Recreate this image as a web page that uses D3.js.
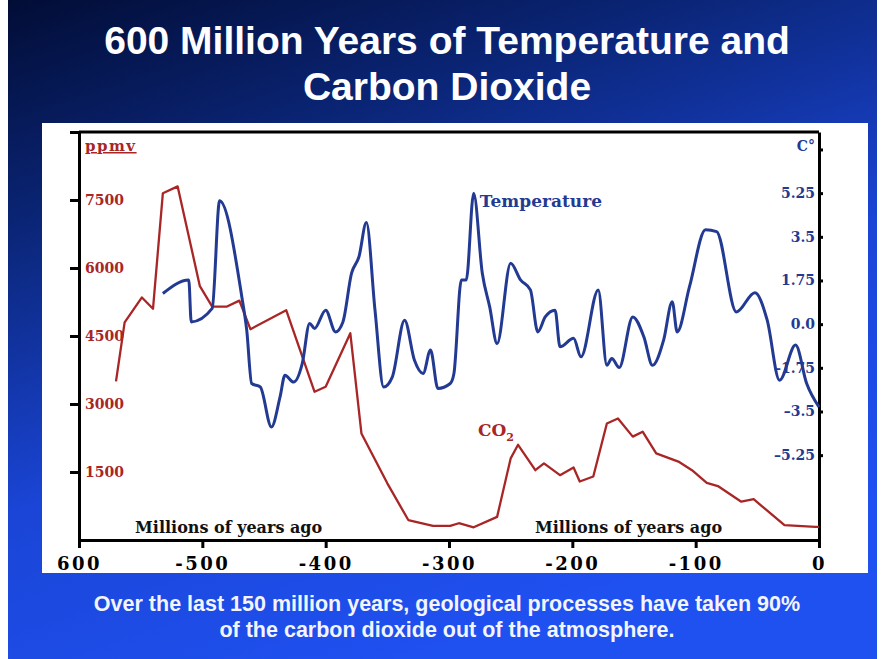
<!DOCTYPE html>
<html>
<head>
<meta charset="utf-8">
<script src="https://cdn.jsdelivr.net/npm/d3@7"></script>
<style>
  body { margin: 0; background: #fff; }
  svg { display: block; }
  .axis path, .axis line { stroke: #000; stroke-width: 3; }
  .lbl { font-family: "DejaVu Serif", serif; font-weight: bold; }
</style>
</head>
<body>
<div id="chart"></div>
<script>
// CO2 (ppmv), years are millions of years ago (negative)
const co2Years = [-570, -563, -549, -540, -532, -520, -502, -492, -480, -470, -461, -432, -409, -400, -380,
  -371, -350, -333, -313, -299, -292, -280, -261, -250, -244, -230, -223, -210, -199, -194, -183, -172,
  -163, -151, -143, -132, -114, -103, -91, -82, -63, -53, -28, -3, 0];
const co2Values = [3500, 4800, 5350, 5100, 7650, 7800, 5600, 5150, 5150, 5280, 4650, 5070, 3270, 3380, 4560,
  2350, 1250, 440, 310, 310, 370, 280, 510, 1800, 2100, 1540, 1690, 1430, 1600, 1290, 1400, 2570,
  2680, 2280, 2390, 1910, 1730, 1540, 1260, 1190, 845, 900, 330, 290, 290];

// temperature (C°)
const tempYears = [-532, -511, -509, -492, -486, -468, -464, -460, -453, -444, -437, -433, -426, -419, -413,
  -409, -400, -392, -386, -379, -373, -367, -360, -353, -346, -336, -328, -321, -315, -309, -299, -296,
  -290, -286, -280, -273, -267, -261, -250, -242, -234, -228, -222, -214, -210, -199, -193, -179, -172,
  -168, -162, -151, -142, -135, -126, -119, -115, -105, -92, -83, -67, -52, -42, -32, -19, -10, 0];
const tempValues = [1.23, 1.77, 0.09, 0.63, 4.94, 1.10, -0.24, -2.38, -2.52, -4.12, -2.92, -2.05, -2.32, -1.58, 0.03,
  -0.17, 0.56, -0.31, 0.09, 2.04, 2.70, 4.07, 0.56, -2.52, -2.12, 0.16, -1.45, -1.98, -1.04, -2.58, -2.38, -1.98,
  1.77, 1.77, 5.25, 2.04, 0.69, -0.78, 2.44, 1.77, 1.37, -0.31, 0.29, 0.56, -0.91, -0.57, -1.31, 1.37, -1.65,
  -1.38, -1.74, 0.29, -0.51, -1.65, -0.64, 0.90, -0.31, 1.50, 3.78, 3.71, 0.49, 1.26, 0.16, -2.25, -0.84, -2.38, -3.32];

const xTicks = [-600, -500, -400, -300, -200, -100, 0];
const xTickLabels = ["600", "-500", "-400", "-300", "-200", "-100", "0"];
const ppmTicks = [1500, 3000, 4500, 6000, 7500, 9000];
const tempTicks = [7, 5.25, 3.5, 1.75, 0, -1.75, -3.5, -5.25];
const tempTickLabels = ["C°", "5.25", "3.5", "1.75", "0.0", "–1.75", "–3.5", "–5.25"];

const W = 882, H = 659;
const red = "#a82626", blue = "#233a92";

const svg = d3.select("#chart").append("svg").attr("width", W).attr("height", H);

// slide background
const defs = svg.append("defs");
const grad = defs.append("linearGradient").attr("id", "bg")
  .attr("x1", 0).attr("y1", 0).attr("x2", 0.45).attr("y2", 1);
grad.append("stop").attr("offset", 0).attr("stop-color", "#020d36");
grad.append("stop").attr("offset", 0.3).attr("stop-color", "#0b2679");
grad.append("stop").attr("offset", 0.65).attr("stop-color", "#1a45d6");
grad.append("stop").attr("offset", 1).attr("stop-color", "#1f50f0");
svg.append("rect").attr("x", 8).attr("y", 0).attr("width", W - 13).attr("height", H).attr("fill", "url(#bg)");

svg.append("text").attr("x", 447).attr("y", 54).attr("text-anchor", "middle")
  .attr("fill", "#fff").attr("font-family", "Liberation Sans, Arial, sans-serif")
  .attr("font-weight", "bold").attr("font-size", 39)
  .text("600 Million Years of Temperature and");
svg.append("text").attr("x", 447).attr("y", 100).attr("text-anchor", "middle")
  .attr("fill", "#fff").attr("font-family", "Liberation Sans, Arial, sans-serif")
  .attr("font-weight", "bold").attr("font-size", 39)
  .text("Carbon Dioxide");

svg.append("text").attr("x", 447).attr("y", 611).attr("text-anchor", "middle")
  .attr("fill", "#f2f5ff").attr("font-family", "Liberation Sans, Arial, sans-serif")
  .attr("font-weight", "bold").attr("font-size", 21.5)
  .text("Over the last 150 million years, geological processes have taken 90%");
svg.append("text").attr("x", 447).attr("y", 637).attr("text-anchor", "middle")
  .attr("fill", "#f2f5ff").attr("font-family", "Liberation Sans, Arial, sans-serif")
  .attr("font-weight", "bold").attr("font-size", 21.5)
  .text("of the carbon dioxide out of the atmosphere.");

// white chart panel
svg.append("rect").attr("x", 42).attr("y", 123).attr("width", 826).attr("height", 450).attr("fill", "#fff");

const x = d3.scaleLinear().domain([-600, 0]).range([79, 819]);
const yC = d3.scaleLinear().domain([0, 9000]).range([540, 132]);
const yT = d3.scaleLinear().domain([-8.65, 7.7]).range([540, 132]);

// top frame line
svg.append("line").attr("x1", x(-600)).attr("x2", x(0)).attr("y1", yC(9000)).attr("y2", yC(9000))
  .attr("stroke", "#000").attr("stroke-width", 3);

// left axis (ppmv)
const gl = svg.append("g").attr("class", "axis").attr("transform", `translate(${x(-600)},0)`)
  .call(d3.axisLeft(yC).tickValues(ppmTicks).tickSize(9).tickSizeOuter(0)
    .tickFormat(d => d === 9000 ? "" : d));
gl.selectAll("text").attr("x", 6).attr("text-anchor", "start").attr("class", "lbl")
  .attr("fill", red).attr("font-size", 14).attr("dy", "0.3em");

// right axis (C°)
const gr = svg.append("g").attr("class", "axis").attr("transform", `translate(${x(0)},0)`)
  .call(d3.axisRight(yT).tickValues(tempTicks).tickSize(4).tickSizeOuter(0)
    .tickFormat((d, i) => tempTickLabels[i]));
gr.selectAll("text").attr("x", -4).attr("text-anchor", "end").attr("class", "lbl")
  .attr("fill", blue).attr("font-size", 14).attr("dy", "0.3em");
gr.selectAll(".tick").filter(d => d === 7).select("text").attr("dy", "0.1em");

// bottom axis
const gb = svg.append("g").attr("class", "axis").attr("transform", `translate(0,${yC(0)})`)
  .call(d3.axisBottom(x).tickValues(xTicks).tickSize(8).tickSizeOuter(0)
    .tickFormat((d, i) => xTickLabels[i]));
gb.selectAll("text").attr("class", "lbl").attr("fill", "#000").attr("font-size", 18)
  .attr("letter-spacing", 2.5).attr("y", 17).attr("dy", "0.71em");

// annotations
svg.append("text").attr("class", "lbl").attr("x", 85).attr("y", 151)
  .attr("fill", red).attr("font-size", 15).attr("letter-spacing", 1.5)
  .attr("text-decoration", "underline").text("ppmv");

svg.append("text").attr("class", "lbl").attr("x", x(-275)).attr("y", yT(4.7))
  .attr("fill", blue).attr("font-size", 17).text("Temperature");

const co2Label = svg.append("text").attr("class", "lbl").attr("x", x(-276.5)).attr("y", yC(2300))
  .attr("fill", red).attr("font-size", 17);
co2Label.append("tspan").text("CO");
co2Label.append("tspan").attr("font-size", 11).attr("dy", 5).text("2");

[-554.5, -230.3].forEach(t => {
  svg.append("text").attr("class", "lbl").attr("x", x(t)).attr("y", yC(150))
    .attr("fill", "#111").attr("font-size", 16).text("Millions of years ago");
});

// series lines
const co2Line = d3.line().x((d, i) => x(co2Years[i])).y(d => yC(d));
svg.append("path").datum(co2Values)
  .attr("fill", "none").attr("stroke", red).attr("stroke-width", 2.3)
  .attr("stroke-linejoin", "round").attr("d", co2Line);

const tempLine = d3.line().x((d, i) => x(tempYears[i])).y(d => yT(d)).curve(d3.curveMonotoneX);
svg.append("path").datum(tempValues)
  .attr("fill", "none").attr("stroke", blue).attr("stroke-width", 3)
  .attr("stroke-linejoin", "round").attr("d", tempLine);
</script>
</body>
</html>
